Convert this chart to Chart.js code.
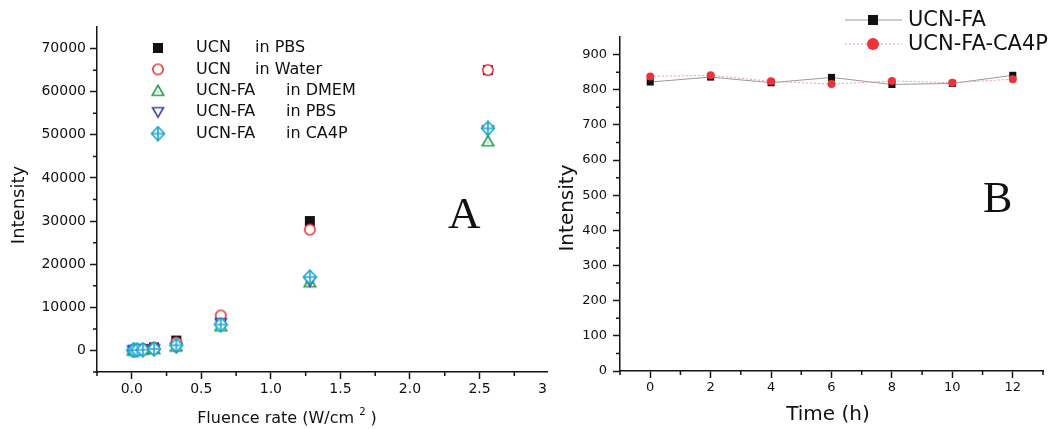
<!DOCTYPE html>
<html>
<head>
<meta charset="utf-8">
<script src="https://cdn.jsdelivr.net/npm/chart.js"></script>
<style>
html, body { margin: 0; padding: 0; background: #fff; }
body { width: 1052px; height: 429px; position: relative; overflow: hidden; }
#wrapA { position: absolute; left: 0; top: 0; width: 570px; height: 429px; }
#wrapB { position: absolute; left: 548px; top: 0; width: 504px; height: 429px; background: #fff; }
</style>
</head>
<body>
<div id="wrapA"><canvas id="chartA" width="570" height="429"></canvas></div>
<div id="wrapB"><canvas id="chartB" width="504" height="429"></canvas></div>
<script>
// ---- panel A: intensity vs fluence rate ----
const fluence = [0.01, 0.02, 0.04, 0.08, 0.16, 0.32, 0.64, 1.28, 2.56];
const ucnPBS = [50, 100, 200, 350, 700, 2300, 7000, 30000, 65000];
const ucnWater = [40, 90, 180, 300, 600, 1800, 8100, 28000, 65000];
const ucnFaDMEM = [20, 40, 80, 150, 300, 900, 5600, 15800, 48500];
const ucnFaPBS = [10, 30, 60, 120, 250, 600, 6300, 16000, 51000];
const ucnFaCA4P = [20, 50, 90, 160, 350, 1200, 6000, 17000, 51500];
const materialA = ['UCN', 'UCN', 'UCN-FA', 'UCN-FA', 'UCN-FA'];
const mediumA = ['in PBS', 'in Water', 'in DMEM', 'in PBS', 'in CA4P'];
const xTicksA = [0, 0.5, 1, 1.5, 2, 2.5, 3];
const xMinorA = [-0.25, 0.25, 0.75, 1.25, 1.75, 2.25, 2.75];
const yTicksA = [0, 10000, 20000, 30000, 40000, 50000, 60000, 70000];
const yMinorA = [-5000, 5000, 15000, 25000, 35000, 45000, 55000, 65000];

// ---- panel B: intensity vs time ----
const hours = [0, 2, 4, 6, 8, 10, 12];
const ucnFA = [822, 836, 820, 835, 815, 818, 841];
const ucnFaCA4PTime = [838, 841, 824, 816, 825, 820, 830];
const seriesB = ['UCN-FA', 'UCN-FA-CA4P'];
const xTicksB = [0, 2, 4, 6, 8, 10, 12];
const xMinorB = [-1, 1, 3, 5, 7, 9, 11, 13];
const yTicksB = [0, 100, 200, 300, 400, 500, 600, 700, 800, 900];
const yMinorB = [50, 150, 250, 350, 450, 550, 650, 750, 850];

const AXIS = '#151515';
const TEXT = '#111';
const FONT = '"DejaVu Sans", sans-serif';
const SERIF = '"Liberation Serif", "DejaVu Serif", serif';

// open Origin-style symbols, white filled
function marker(w, h, draw) {
    const c = document.createElement('canvas');
    c.width = w; c.height = h;
    draw(c.getContext('2d'));
    return c;
}
function poly(g, pts, stroke) {
    g.beginPath();
    pts.forEach((p, i) => i ? g.lineTo(p[0], p[1]) : g.moveTo(p[0], p[1]));
    g.closePath();
    g.fillStyle = '#fff'; g.fill();
    g.strokeStyle = stroke; g.lineWidth = 1.6; g.stroke();
}
const mkSquare = marker(12, 12, g => { g.fillStyle = '#111'; g.fillRect(1, 1, 10, 10); });
const mkCircle = marker(14, 14, g => {
    g.beginPath(); g.arc(7, 7, 5.2, 0, Math.PI * 2);
    g.fillStyle = '#fff'; g.fill();
    g.strokeStyle = '#e8383d'; g.lineWidth = 1.6; g.stroke();
});
const mkTriUp = marker(14, 14, g => {
    poly(g, [[7, 1.5], [12.8, 11.5], [1.2, 11.5]], '#22a04b');
    g.fillStyle = '#22a04b'; g.fillRect(6.4, 7.6, 1.2, 1.2);
});
const mkTriDown = marker(14, 14, g => {
    poly(g, [[1.5, 2.5], [12.5, 2.5], [7, 12]], '#3b44a8');
});
const mkDiamond = marker(16, 16, g => {
    poly(g, [[8, 1], [14.5, 8], [8, 15], [1.5, 8]], '#1ba6d3');
    g.beginPath(); g.moveTo(1.5, 8); g.lineTo(14.5, 8); g.moveTo(8, 1); g.lineTo(8, 15); g.stroke();
});
const markersA = [mkSquare, mkCircle, mkTriUp, mkTriDown, mkDiamond];
const seriesValuesA = [ucnPBS, ucnWater, ucnFaDMEM, ucnFaPBS, ucnFaCA4P];

function axis(min, max, tickVals, fmt, size, pad, isX, fit) {
    return {
        type: 'linear', min: min, max: max,
        border: { display: true, color: AXIS, width: 1.5 },
        grid: { drawOnChartArea: false, drawTicks: true, tickLength: 7, tickWidth: 1.5, tickColor: AXIS },
        afterBuildTicks: s => { s.ticks = tickVals.map(v => ({ value: v })); },
        afterFit: s => { if (isX) s.height = fit; else s.width = fit; },
        ticks: { autoSkip: false, maxRotation: 0, color: TEXT, padding: pad, font: { family: FONT, size: size }, callback: fmt }
    };
}

function minorTicks(chart, xs, ys, len) {
    const ctx = chart.ctx, a = chart.chartArea, x = chart.scales.x, y = chart.scales.y;
    ctx.save();
    ctx.strokeStyle = AXIS; ctx.lineWidth = 1.5;
    ctx.beginPath();
    xs.forEach(v => { const px = x.getPixelForValue(v); ctx.moveTo(px, a.bottom); ctx.lineTo(px, a.bottom + len); });
    ys.forEach(v => { const py = y.getPixelForValue(v); ctx.moveTo(a.left, py); ctx.lineTo(a.left - len, py); });
    ctx.stroke();
    ctx.restore();
}

function vTitle(ctx, text, x, y, size) {
    ctx.save();
    ctx.translate(x, y); ctx.rotate(-Math.PI / 2);
    ctx.font = size + 'px ' + FONT; ctx.fillStyle = TEXT;
    ctx.textAlign = 'center'; ctx.textBaseline = 'middle';
    ctx.fillText(text, 0, 0);
    ctx.restore();
}

const decorA = {
    id: 'decorA',
    afterDraw(chart) {
        const ctx = chart.ctx;
        minorTicks(chart, xMinorA, yMinorA, 4);
        vTitle(ctx, 'Intensity', 19, 205, 18);

        // x title with superscript
        ctx.save();
        ctx.fillStyle = TEXT; ctx.textBaseline = 'alphabetic';
        const t1 = 'Fluence rate (W/cm ', t2 = '2', t3 = ' )';
        ctx.font = '16px ' + FONT;
        const w1 = ctx.measureText(t1).width, w3 = ctx.measureText(t3).width;
        ctx.font = '10px ' + FONT;
        const w2 = ctx.measureText(t2).width;
        let x0 = 287 - (w1 + w2 + w3) / 2;
        ctx.font = '16px ' + FONT; ctx.fillText(t1, x0, 423);
        ctx.font = '10px ' + FONT; ctx.fillText(t2, x0 + w1, 415);
        ctx.font = '16px ' + FONT; ctx.fillText(t3, x0 + w1 + w2, 423);

        // panel letter
        ctx.font = '45px ' + SERIF; ctx.fillStyle = '#111';
        ctx.fillText('A', 448, 228);

        // legend
        ctx.font = '16px ' + FONT; ctx.fillStyle = TEXT; ctx.textBaseline = 'middle';
        markersA.forEach((m, i) => {
            const yy = 48 + i * 21.4;
            ctx.drawImage(m, 158 - m.width / 2, yy - m.height / 2);
            ctx.fillText(materialA[i], 196, yy);
            ctx.fillText(mediumA[i], materialA[i] === 'UCN' ? 255 : 286, yy);
        });
        ctx.restore();
    }
};

new Chart(document.getElementById('chartA'), {
    type: 'scatter',
    data: {
        datasets: seriesValuesA.map((vals, i) => ({
            label: materialA[i] + '   ' + mediumA[i],
            data: fluence.map((f, j) => ({ x: f, y: vals[j] })),
            pointStyle: markersA[i],
            pointRadius: 6,
            order: 4 - i
        }))
    },
    options: {
        responsive: false,
        animation: false,
        layout: { padding: { top: 27, right: 4, left: 0, bottom: 0 } },
        plugins: { legend: { display: false }, tooltip: { enabled: false } },
        scales: {
            x: axis(-0.25, 3.1, xTicksA, v => v.toFixed(1), 14, 2, true, 57),
            y: axis(-5000, 75000, yTicksA, v => String(v), 14, 4, false, 97)
        }
    },
    plugins: [decorA]
});

const decorB = {
    id: 'decorB',
    afterDraw(chart) {
        const ctx = chart.ctx;
        minorTicks(chart, xMinorB, yMinorB, 4);
        vTitle(ctx, 'Intensity', 20, 208, 20);
        ctx.save();
        ctx.fillStyle = TEXT;
        ctx.font = '20px ' + FONT; ctx.textAlign = 'center'; ctx.textBaseline = 'alphabetic';
        ctx.fillText('Time (h)', 280, 420);

        ctx.font = '44px ' + SERIF; ctx.fillStyle = '#111'; ctx.textAlign = 'left';
        ctx.fillText('B', 435, 212);

        // legend
        ctx.lineWidth = 1;
        ctx.strokeStyle = '#9a9a9a';
        ctx.beginPath(); ctx.moveTo(297, 20); ctx.lineTo(354, 20); ctx.stroke();
        ctx.fillStyle = '#111'; ctx.fillRect(320, 15, 10, 10);
        ctx.strokeStyle = '#f39a9a'; ctx.setLineDash([2, 2]);
        ctx.beginPath(); ctx.moveTo(297, 44); ctx.lineTo(354, 44); ctx.stroke();
        ctx.setLineDash([]);
        ctx.fillStyle = '#ee3338';
        ctx.beginPath(); ctx.arc(325, 44, 6, 0, Math.PI * 2); ctx.fill();
        ctx.fillStyle = TEXT; ctx.font = '21px ' + FONT; ctx.textBaseline = 'middle';
        ctx.fillText(seriesB[0], 360, 21);
        ctx.fillText(seriesB[1], 360, 45);
        ctx.restore();
    }
};

new Chart(document.getElementById('chartB'), {
    type: 'scatter',
    data: {
        datasets: [{
            label: seriesB[0],
            data: hours.map((h, j) => ({ x: h, y: ucnFA[j] })),
            showLine: true,
            borderColor: '#9a9a9a',
            borderWidth: 1,
            pointStyle: 'rect',
            pointRadius: 5,
            pointBackgroundColor: '#111',
            pointBorderColor: '#111',
            pointBorderWidth: 0,
            order: 1
        }, {
            label: seriesB[1],
            data: hours.map((h, j) => ({ x: h, y: ucnFaCA4PTime[j] })),
            showLine: true,
            borderColor: '#f39a9a',
            borderWidth: 1,
            borderDash: [2, 2],
            pointStyle: 'circle',
            pointRadius: 4,
            pointBackgroundColor: '#ee3338',
            pointBorderColor: '#ee3338',
            pointBorderWidth: 0,
            order: 0
        }]
    },
    options: {
        responsive: false,
        animation: false,
        layout: { padding: { top: 37, right: 9, left: 0, bottom: 0 } },
        plugins: { legend: { display: false }, tooltip: { enabled: false } },
        scales: {
            x: axis(-1, 13, xTicksB, v => String(v), 13, 2, true, 58),
            y: axis(0, 950, yTicksB, v => String(v), 13, 6, false, 72)
        }
    },
    plugins: [decorB]
});
</script>
</body>
</html>
